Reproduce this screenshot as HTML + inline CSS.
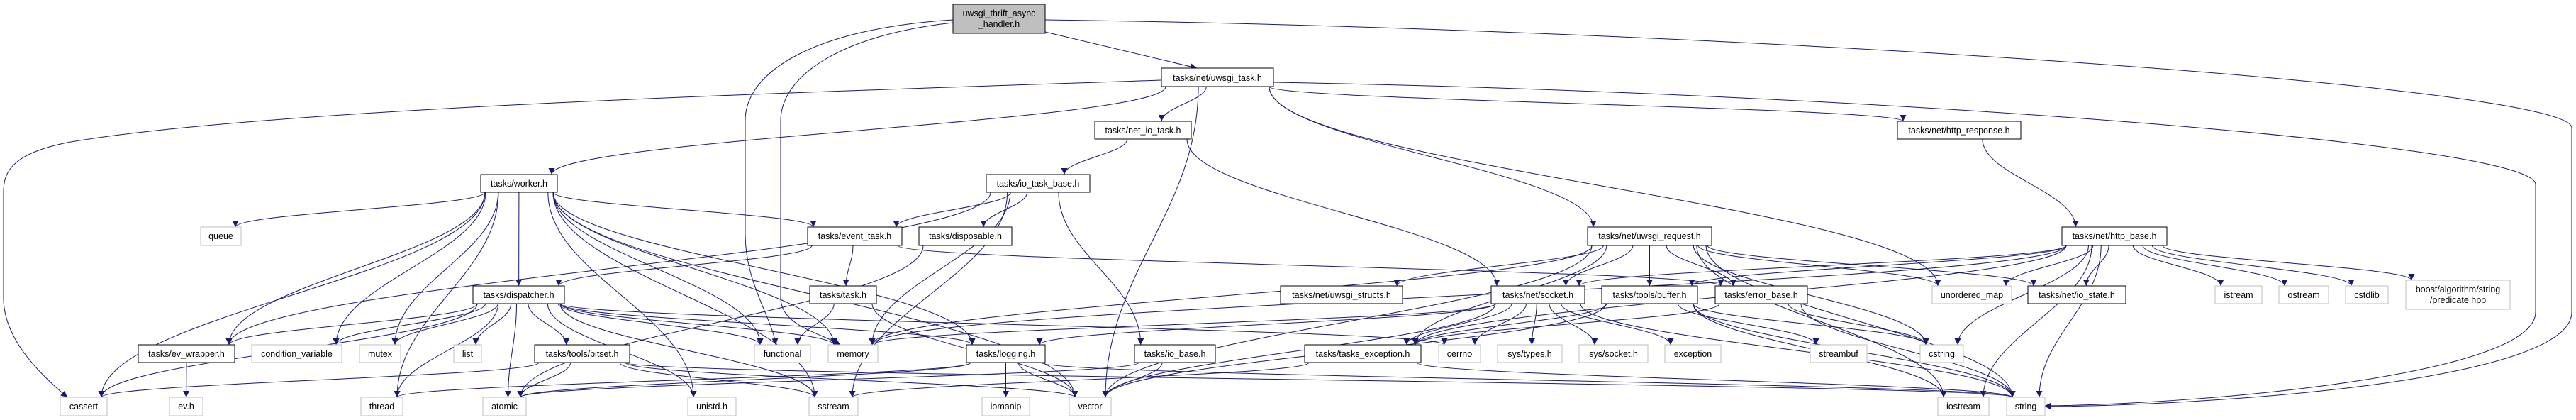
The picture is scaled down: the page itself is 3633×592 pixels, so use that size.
<!DOCTYPE html>
<html><head><meta charset="utf-8"><style>
html,body{margin:0;padding:0;background:#fff;}
svg{display:block;}
text{font-family:"Liberation Sans",sans-serif;font-size:12.5px;fill:#000;}
</style></head><body>
<svg id="g" width="3633" height="592" viewBox="0 0 3633 592" xmlns="http://www.w3.org/2000/svg">
<defs><marker id="a" viewBox="0 0 10 10" refX="10" refY="5" markerWidth="10" markerHeight="9" markerUnits="userSpaceOnUse" orient="auto"><path d="M0,0 L10,5 L0,10 z" fill="#191970"/></marker></defs>
<g id="edges" fill="none" stroke="#191970" stroke-width="1"></g>
<g id="nodes">
<rect x="1344" y="6" width="130" height="41" fill="#bfbfbf" stroke="#000"/>
<text x="1409" y="23" text-anchor="middle">uwsgi_thrift_async</text>
<text x="1409" y="38" text-anchor="middle">_handler.h</text>
</g>
</svg>
<script>
var N={
UT:[1638,96,1796,122,"tasks/net/uwsgi_task.h",1],
NIO:[1544,171,1680,196,"tasks/net_io_task.h",1],
HR:[2676,171,2850,196,"tasks/net/http_response.h",1],
ITB:[1391,246,1537,271,"tasks/io_task_base.h",1],
W:[678,246,786,271,"tasks/worker.h",1],
Q:[283,320,340,346,"queue",0],
ET:[1139,320,1272,346,"tasks/event_task.h",1],
D:[1296,320,1427,346,"tasks/disposable.h",1],
UR:[2239,320,2414,346,"tasks/net/uwsgi_request.h",1],
HB:[2908,320,3056,346,"tasks/net/http_base.h",1],
DI:[667,403,796,428,"tasks/dispatcher.h",1],
TK:[1142,403,1236,428,"tasks/task.h",1],
US:[1806,403,1978,428,"tasks/net/uwsgi_structs.h",1],
SO:[2103,403,2235,428,"tasks/net/socket.h",1],
BU:[2259,403,2394,428,"tasks/tools/buffer.h",1],
EB:[2419,403,2549,428,"tasks/error_base.h",1],
UM:[2725,403,2837,428,"unordered_map",0],
IS:[2860,403,2998,428,"tasks/net/io_state.h",1],
ISTR:[3124,403,3190,428,"istream",0],
OSTR:[3214,403,3284,428,"ostream",0],
CSL:[3308,403,3368,428,"cstdlib",0],
BO:[3393,395,3540,436,"",0],
EVW:[195,486,331,511,"tasks/ev_wrapper.h",1],
CV:[355,486,482,511,"condition_variable",0],
MU:[507,486,565,511,"mutex",0],
LI:[640,486,679,511,"list",0],
BS:[754,486,888,511,"tasks/tools/bitset.h",1],
FN:[1064,486,1143,511,"functional",0],
ME:[1168,486,1238,511,"memory",0],
LOG:[1363,486,1474,511,"tasks/logging.h",1],
IOB:[1600,486,1714,511,"tasks/io_base.h",1],
TE:[1840,486,2004,511,"tasks/tasks_exception.h",1],
CE:[2029,486,2088,511,"cerrno",0],
STY:[2112,486,2203,511,"sys/types.h",0],
SSO:[2227,486,2324,511,"sys/socket.h",0],
EX:[2348,486,2427,511,"exception",0],
SB:[2553,486,2633,511,"streambuf",0],
CS:[2708,486,2769,511,"cstring",0],
CA:[85,560,151,586,"cassert",0],
EVH:[239,560,286,586,"ev.h",0],
TH:[509,560,568,586,"thread",0],
AT:[681,560,742,586,"atomic",0],
UN:[970,560,1038,586,"unistd.h",0],
SST:[1141,560,1210,586,"sstream",0],
IOM:[1385,560,1452,586,"iomanip",0],
VE:[1508,560,1567,586,"vector",0],
IOS:[2733,560,2805,586,"iostream",0],
STR:[2830,560,2884,586,"string",0]
};
var ns="http://www.w3.org/2000/svg";
var E=document.getElementById("edges"),G=document.getElementById("nodes");
function p(d){var e=document.createElementNS(ns,"path");e.setAttribute("d",d);e.setAttribute("marker-end","url(#a)");E.appendChild(e);}
function cx(n){return (n[0]+n[2])/2;}
function edge(a,b){
  var s=N[a],t=N[b];
  var sx=cx(s),tx=cx(t);
  var x0=Math.max(s[0]+6,Math.min(s[2]-6,sx+(tx-sx)*0.15));
  var y0=s[3];
  var x1=Math.max(t[0]+8,Math.min(t[2]-8,tx+(sx-tx)*0.25));
  var y1=t[1];
  var dy=y1-y0;
  if(dy<=0){p("M"+x0+","+y0+" L"+x1+","+y1);return;}
  p("M"+x0+","+y0+" C"+x0+","+(y0+dy*0.4)+" "+x1+","+(y1-dy*0.4)+" "+x1+","+y1);
}
var L=[
["UT","W"],["UT","NIO"],["UT","VE"],["UT","UR"],["UT","HR"],["UT","UM"],
["NIO","ITB"],["NIO","SO"],["HR","HB"],
["ITB","EVW"],["ITB","ET"],["ITB","D"],["ITB","ME"],["ITB","SST"],["ITB","IOB"],
["W","Q"],["W","EVW"],["W","CV"],["W","MU"],["W","DI"],["W","ET"],["W","FN"],["W","ME"],["W","LOG"],["W","VE"],["W","UN"],["W","SST"],["W","TH"],["W","CA"],
["ET","DI"],["ET","TK"],["ET","EB"],["TK","FN"],["TK","VE"],["D","AT"],
["DI","EVW"],["DI","CV"],["DI","MU"],["DI","LI"],["DI","BS"],["DI","AT"],["DI","UN"],["DI","SST"],["DI","LOG"],["DI","ME"],["DI","FN"],["DI","TH"],["DI","CA"],["DI","CE"],
["BS","AT"],["BS","SST"],["BS","VE"],["BS","CA"],["BS","STR"],
["EVW","EVH"],["LOG","IOM"],["LOG","VE"],["LOG","TH"],["LOG","STR"],["LOG","AT"],["IOB","AT"],["IOB","VE"],
["UR","US"],["UR","SO"],["UR","BU"],["UR","TE"],["UR","EB"],["UR","UM"],["UR","IS"],["UR","CS"],["UR","STR"],["UR","ME"],["UR","VE"],["UR","IOS"],
["SO","TE"],["SO","CE"],["SO","STY"],["SO","SSO"],["SO","EX"],["SO","ME"],["SO","STR"],["SO","LOG"],["SO","VE"],
["BU","CS"],["BU","STR"],["BU","SB"],["BU","IOS"],["BU","TE"],["BU","VE"],
["EB","CS"],["EB","STR"],["EB","TE"],["TE","SST"],["TE","STR"],
["HB","UM"],["HB","IS"],["HB","CS"],["HB","STR"],["HB","IOS"],["HB","ISTR"],["HB","OSTR"],["HB","CSL"],["HB","BO"],["HB","SO"],["HB","BU"],["HB","TE"],["HB","ME"]
];
L.forEach(function(e){edge(e[0],e[1]);});
// top node edges
p("M1474,45 L1688,96");
p("M1344,28 C1150,40 1051,100 1051,170 L1051,330 C1051,400 1090,450 1094,486");
p("M1344,32 C1180,50 1101,110 1101,170 L1101,420 C1101,460 1160,470 1185,486");
p("M1474,28 C2400,40 3627,120 3627,180 L3627,440 C3627,540 3100,572 2884,573");
// uwsgi_task long loops
p("M1638,113 C1200,128 400,150 100,200 C20,215 5,240 5,270 L5,420 C5,480 60,530 95,560");
p("M1796,116 C2600,130 3576,200 3576,260 L3576,440 C3576,530 3100,570 2884,572");
for(var k in N){var n=N[k];
 var r=document.createElementNS(ns,"rect");r.setAttribute("x",n[0]);r.setAttribute("y",n[1]);r.setAttribute("width",n[2]-n[0]);r.setAttribute("height",n[3]-n[1]);
 r.setAttribute("fill","#fff");r.setAttribute("stroke",n[5]?"#000":"#bfbfbf");G.appendChild(r);}
</script>
<svg style="position:absolute;left:0;top:0" width="3633" height="592" xmlns="http://www.w3.org/2000/svg">
<g font-family="Liberation Sans, sans-serif" font-size="12.5" text-anchor="middle">
<text x="1717" y="114">tasks/net/uwsgi_task.h</text>
<text x="1612" y="188">tasks/net_io_task.h</text>
<text x="2763" y="188">tasks/net/http_response.h</text>
<text x="1464" y="263">tasks/io_task_base.h</text>
<text x="732" y="263">tasks/worker.h</text>
<text x="311.5" y="337">queue</text>
<text x="1205.5" y="337">tasks/event_task.h</text>
<text x="1361.5" y="337">tasks/disposable.h</text>
<text x="2326.5" y="337">tasks/net/uwsgi_request.h</text>
<text x="2982" y="337">tasks/net/http_base.h</text>
<text x="731.5" y="420">tasks/dispatcher.h</text>
<text x="1189" y="420">tasks/task.h</text>
<text x="1892" y="420">tasks/net/uwsgi_structs.h</text>
<text x="2169" y="420">tasks/net/socket.h</text>
<text x="2326.5" y="420">tasks/tools/buffer.h</text>
<text x="2484" y="420">tasks/error_base.h</text>
<text x="2781" y="420">unordered_map</text>
<text x="2929" y="420">tasks/net/io_state.h</text>
<text x="3157" y="420">istream</text>
<text x="3249" y="420">ostream</text>
<text x="3338" y="420">cstdlib</text>
<text x="3466.5" y="412">boost/algorithm/string</text>
<text x="3466.5" y="427">/predicate.hpp</text>
<text x="263" y="503">tasks/ev_wrapper.h</text>
<text x="418.5" y="503">condition_variable</text>
<text x="536" y="503">mutex</text>
<text x="659.5" y="503">list</text>
<text x="821" y="503">tasks/tools/bitset.h</text>
<text x="1103.5" y="503">functional</text>
<text x="1203" y="503">memory</text>
<text x="1418.5" y="503">tasks/logging.h</text>
<text x="1657" y="503">tasks/io_base.h</text>
<text x="1922" y="503">tasks/tasks_exception.h</text>
<text x="2058.5" y="503">cerrno</text>
<text x="2157.5" y="503">sys/types.h</text>
<text x="2275.5" y="503">sys/socket.h</text>
<text x="2387.5" y="503">exception</text>
<text x="2593" y="503">streambuf</text>
<text x="2738.5" y="503">cstring</text>
<text x="118" y="577">cassert</text>
<text x="262.5" y="577">ev.h</text>
<text x="538.5" y="577">thread</text>
<text x="711.5" y="577">atomic</text>
<text x="1004" y="577">unistd.h</text>
<text x="1175.5" y="577">sstream</text>
<text x="1418.5" y="577">iomanip</text>
<text x="1537.5" y="577">vector</text>
<text x="2769" y="577">iostream</text>
<text x="2857" y="577">string</text>
</g>
</svg>
</body></html>
